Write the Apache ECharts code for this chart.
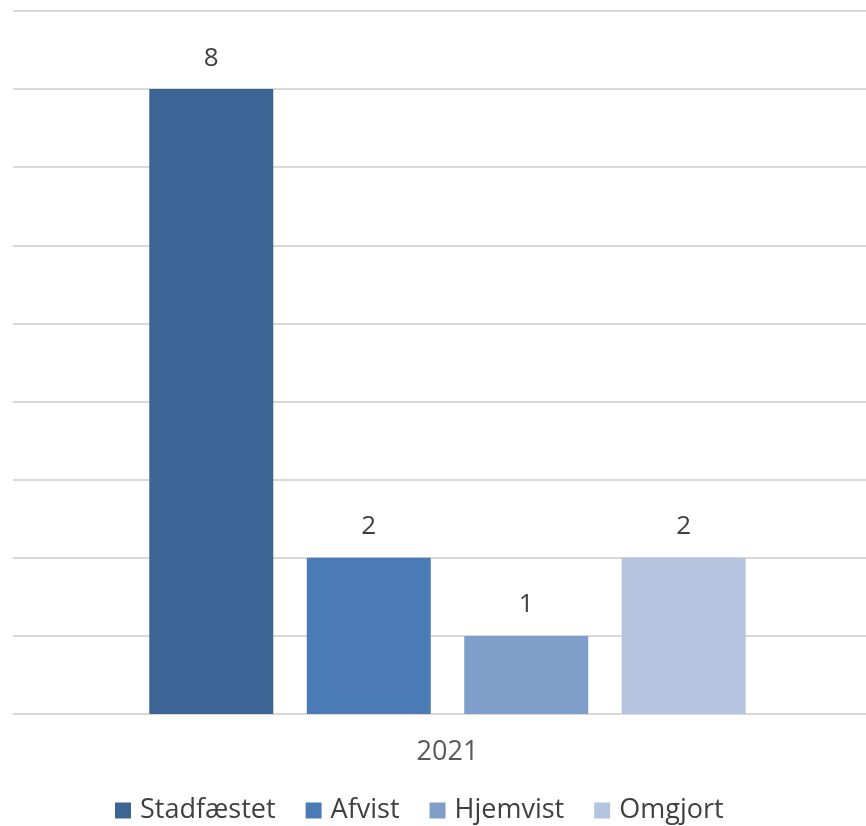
<!DOCTYPE html>
<html>
<head>
<meta charset="utf-8">
<script src="https://cdn.jsdelivr.net/npm/echarts@6/dist/echarts.min.js"></script>
<style>html,body{margin:0;padding:0;background:#fff}#c{width:866px;height:826px}</style>
</head>
<body>
<div id="c"></div>
<script>
const categories = ['2021'];
const seriesNames = ['Stadfæstet', 'Afvist', 'Hjemvist', 'Omgjort'];
const seriesValues = [[8], [2], [1], [2]];
const colors = ['#3C6595', '#4A7BB4', '#7F9FCA', '#B4C4DF'];

const chart = echarts.init(document.getElementById('c'));
const font = '"Open Sans", "Liberation Sans", sans-serif';
chart.setOption({
  animation: false,
  textStyle: { fontFamily: font },
  grid: [
    { left: 13, top: 11, right: 0, height: 703, containLabel: false },
    { left: 29, top: 11, right: 0, height: 703, containLabel: false }
  ],
  legend: {
    top: 792, left: 110,
    itemWidth: 16, itemHeight: 16, itemGap: 30,
    icon: 'rect',
    textStyle: { fontSize: 27, color: '#404040', fontFamily: font, padding: [0, 0, 0, 4] },
    data: seriesNames
  },
  xAxis: [
    { type: 'category', data: categories, gridIndex: 0, show: false },
    {
      type: 'category', data: categories, gridIndex: 1,
      axisLine: { show: false },
      axisTick: { show: false },
      axisLabel: { fontSize: 27, color: '#595959', margin: 25, fontFamily: font }
    }
  ],
  yAxis: [
    {
      type: 'value', min: 0, max: 9, interval: 1, gridIndex: 0,
      axisLabel: { show: false }, axisLine: { show: false }, axisTick: { show: false },
      splitLine: { lineStyle: { color: '#d9d9d9', width: 2 } }
    },
    {
      type: 'value', min: 0, max: 9, interval: 1, gridIndex: 1, show: false,
      splitLine: { show: false }
    }
  ],
  series: seriesNames.map((n, i) => ({
    name: n, type: 'bar', data: seriesValues[i],
    xAxisIndex: 1, yAxisIndex: 1,
    barWidth: 124, barGap: '27%',
    itemStyle: { color: colors[i] },
    label: { show: true, position: 'top', distance: 18, fontSize: 26, color: '#404040', fontFamily: font }
  }))
});
</script>
</body>
</html>
